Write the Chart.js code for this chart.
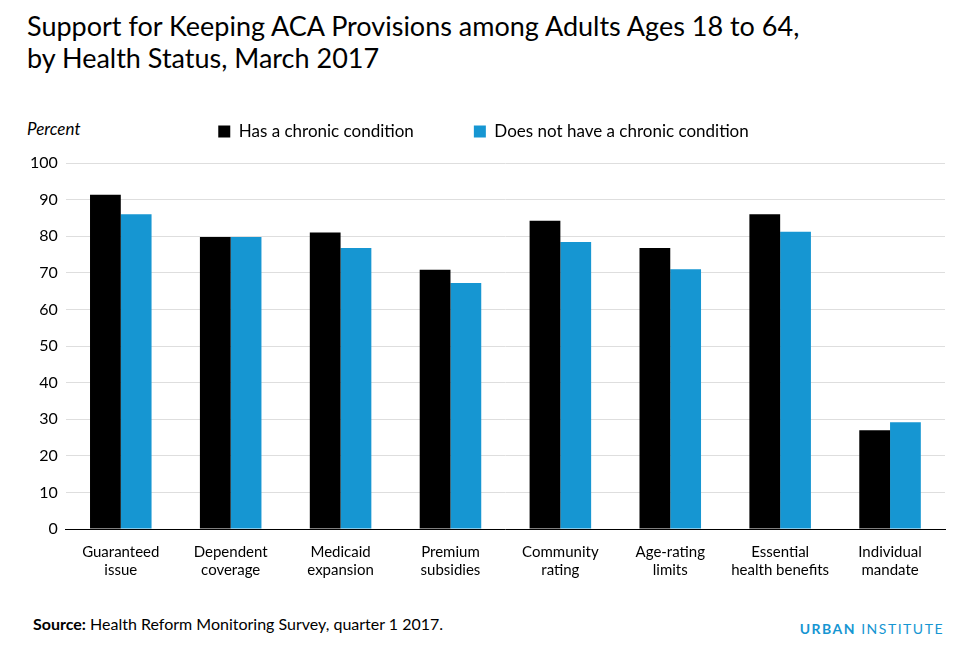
<!DOCTYPE html>
<html><head><meta charset="utf-8">
<script src="https://cdn.jsdelivr.net/npm/chart.js@4"></script>
<style>
body{margin:0;width:970px;height:646px;background:#fff;font-family:Lato,sans-serif;position:relative;overflow:hidden}
#title{position:absolute;left:27px;top:10px;font-size:27px;line-height:32px;color:#000}
#pct{position:absolute;left:27px;top:118px;font-size:17px;font-style:italic;color:#000}
#src{position:absolute;left:33px;top:614px;font-size:16px;color:#000}
#logo{position:absolute;right:26px;top:620px;font-size:14px;letter-spacing:1.5px;color:#1696d2}
#wrap{position:absolute;left:0;top:55px;width:970px;height:530px}
</style></head><body>
<div id="title">Support for Keeping ACA Provisions among Adults Ages 18 to 64,<br>by Health Status, March 2017</div>
<div id="pct">Percent</div>
<div id="src"><b>Source:</b> Health Reform Monitoring Survey, quarter 1 2017.</div>
<div id="logo"><b>URBAN</b> INSTITUTE</div>
<div id="wrap"><canvas id="c"></canvas></div>
<script>
const categories=[["Guaranteed","issue"],["Dependent","coverage"],["Medicaid","expansion"],["Premium","subsidies"],["Community","rating"],["Age-rating","limits"],["Essential","health benefits"],["Individual","mandate"]];
const chronic=[91.3,79.8,81.0,70.8,84.2,76.8,86.0,27.0];
const noChronic=[86.0,79.8,76.8,67.2,78.4,71.0,81.2,29.2];
const seriesNames=["Has a chronic condition","Does not have a chronic condition"];
const legendGap={id:'legendGap',beforeInit(chart){const f=chart.legend.fit;chart.legend.fit=function(){f.bind(chart.legend)();this.height+=13;};}};
new Chart(document.getElementById('c'),{
type:'bar',
data:{labels:categories,datasets:[
{label:seriesNames[0],data:chronic,backgroundColor:'#000000'},
{label:seriesNames[1],data:noChronic,backgroundColor:'#1696d2'}]},
options:{responsive:true,maintainAspectRatio:false,animation:false,
layout:{padding:{left:22,right:25,top:8,bottom:0}},
categoryPercentage:0.56,barPercentage:1,
plugins:{tooltip:{enabled:false},
legend:{position:'top',labels:{boxWidth:12,boxHeight:12,padding:60,color:'#000',font:{family:'Lato',size:17}}}},
scales:{
x:{grid:{display:false},border:{color:'#000'},ticks:{color:'#000',font:{family:'Lato',size:15},maxRotation:0,padding:6}},
y:{min:0,max:100,ticks:{stepSize:10,color:'#000',font:{family:'Lato',size:16},padding:8},grid:{color:'#dedede',drawTicks:false},border:{display:false}}}}
,plugins:[legendGap]});
</script></body></html>
